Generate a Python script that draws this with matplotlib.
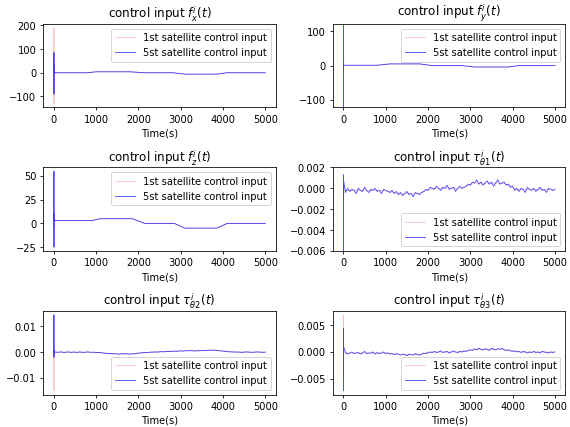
import matplotlib
matplotlib.use('Agg')
import matplotlib.pyplot as plt
import numpy as np

# time grids
t_spike = [0, 1, 2, 3, 4]
t_dense = np.arange(50, 5001, 50)

# ---- force inputs: spike at start, then slow profile ----
fx_red_spike = [0, 190, -130, 30, 0]
fx_blue_spike = [0, 85, -90, 35, 0]
fx_t = [10, 800, 1000, 1800, 2100, 2800, 3100, 3850, 4100, 5000]
fx_red = [0, 0, 4, 4, 0, 0, -7, -6, 0, 0]
fx_blue = [0, 0, 4, 4, 0, 0, -6, -6, 0, 0]

fy_red_spike = [0, -10, 8, -3, 1]
fy_blue_spike = [0, 130, -130, 55, 1]
fy_t = [10, 800, 1100, 1800, 2100, 2800, 3100, 3900, 4150, 5000]
fy_red = [1, 1, 5, 5, 0, 0, -4, -4, 0, 0]
fy_blue = [1, 1, 5, 5, 0, 0, -4, -4, 0, 0]

fz_red_spike = [3, 11, -7, 5, 3]
fz_blue_spike = [3, 55, -25, 10, 3]
fz_t = [10, 900, 1100, 1850, 2150, 2850, 3100, 3850, 4100, 5000]
fz_red = [3, 3, 5, 5, 0, 0, -5, -5, 0, 0]
fz_blue = [3, 3, 5, 5, 0, 0, -5, -5, 0, 0]

# ---- torque inputs (units of 1e-4) ----
tq1_red_spike = [0, -10, 5, -3, -2]
tq1_blue_spike = [0, -65, 13, -28, 7]
tq1_t = [10, 1000, 1300, 1800, 2100, 2800, 3100, 3800, 4100, 5000]
tq1_red = [-2, -2, -5, -5, 0, 0, 5, 5, -1, -1]
tq1_blue = [-4, 0, -3, -1, -2, -5, 0, -2, -3, 1, -2, -4, -1, -2, 0, -3, -2, -5, -1, -2,
            -3, -4, -2, -5, -3, -6,
            -4, -7, -5, -3, -6, -5, -8, -4, -5, -6,
            -4, -3, -1, -2, 1, 0,
            -1, 2, 0, -2, 1, 0, 3, -1, 0, 1, -3, 0, 2, 0,
            1, 2, 4, 3, 6, 5,
            8, 4, 6, 3, 5, 7, 4, 6, 2, 5, 8, 4, 5, 6,
            3, 4, 1, 2, -2, 0,
            -3, 0, -1, -4, 1, -1, -2, 0, -3, -1, 1, -2, -1, -4, 0, -1, -2, -1]

tq2_red_spike = [0, -150, 5, -10, 0]
tq2_blue_spike = [0, 145, -20, 10, 0]
tq2_t = [10, 1100, 1300, 1900, 2300, 3000, 3800, 4300, 5000]
tq2_red = [0, -2, -6, -7, 0, 5, 7, 0, 0]
tq2_blue = [0, -1, 1, 0, -1, 0, 1, -1, 0, 0, -1, 1, 0, -1, 0, 1, 0, -1, 0, -2, -1, -2, -3, -4,
            -5, -6, -5, -7, -6, -7, -8, -6, -7, -6, -7, -8, -6, -7,
            -5, -4, -3, -2, -2, -1, -1, 0,
            0, 1, 0, 1, 2, 1, 2, 3, 2, 3, 4, 3, 4, 5,
            4, 5, 6, 5, 6, 5, 4, 6, 5, 6, 7, 6, 7, 8, 7, 8, 7, 6,
            5, 4, 3, 2, 1, 1, 0, 1, 0,
            0, -1, 0, 1, 0, 0, -1, 0, 1, 0, 0, -1, 0]

tq3_red_spike = [0, 70, -50, 45, -2]
tq3_blue_spike = [0, -73, 45, -50, 10]
tq3_t = [10, 1000, 1300, 1800, 2100, 2800, 3100, 3800, 4200, 5000]
tq3_red = [-2, -2, -5, -5, 0, 0, 5, 5, 0, 0]
tq3_blue = [-1, -4, -2, 0, -3, -2, -1, -4, -2, 1, -3, -2, -2, 0, -4, -1, -3, -2, 0, -3,
            -2, -4, -3, -5, -3, -4,
            -6, -4, -5, -7, -4, -5, -6, -3, -5, -6,
            -4, -2, -3, -1, 0, -1,
            1, -1, 0, 2, -1, 0, 1, -2, 0, 2, 0, -1, 1, 0,
            2, 1, 3, 4, 3, 6,
            4, 7, 5, 4, 6, 5, 3, 7, 5, 4, 6, 5, 7, 4,
            3, 4, 2, 1, 2, 0, 1,
            -1, 1, 0, -2, 0, -1, 1, -1, 0, -2, 1, 0, -1, -2, 0, -1, 0]

titles = [r'control input $f_x^i(t)$', r'control input $f_y^i(t)$',
          r'control input $f_z^i(t)$', r'control input $\tau_{\theta1}^i(t)$',
          r'control input $\tau_{\theta2}^i(t)$', r'control input $\tau_{\theta3}^i(t)$']

fig, axes = plt.subplots(3, 2, figsize=(8, 6), dpi=71.25)
fig.subplots_adjust(left=0.076, right=0.992, top=0.943, bottom=0.076,
                    wspace=0.245, hspace=0.72)
axes = axes.ravel()


def draw(ax, red_spike, red_t, red, blue_spike, blue_t, blue, scale=1.0, loc='upper right'):
    rt = list(t_spike) + list(red_t)
    rv = (np.array(list(red_spike) + list(red)) * scale)
    bt = list(t_spike) + list(blue_t)
    bv = (np.array(list(blue_spike) + list(blue)) * scale)
    ax.plot(rt, rv, color='r', lw=0.8, alpha=0.25, label='1st satellite control input')
    ax.plot(bt, bv, color='b', lw=0.9, alpha=0.7, label='5st satellite control input')
    ax.set_xlabel('Time(s)')
    ax.set_xticks([0, 1000, 2000, 3000, 4000, 5000])
    ax.legend(loc=loc)


draw(axes[0], fx_red_spike, fx_t, fx_red, fx_blue_spike, fx_t, fx_blue)
draw(axes[1], fy_red_spike, fy_t, fy_red, fy_blue_spike, fy_t, fy_blue)
axes[1].set_ylim(-122, 122)
draw(axes[2], fz_red_spike, fz_t, fz_red, fz_blue_spike, fz_t, fz_blue)
draw(axes[3], tq1_red_spike, tq1_t, tq1_red, tq1_blue_spike, t_dense, tq1_blue,
     scale=1e-4, loc='lower right')
axes[3].set_ylim(-0.006, 0.002)
draw(axes[4], tq2_red_spike, tq2_t, tq2_red, tq2_blue_spike, t_dense, tq2_blue,
     scale=1e-4, loc='lower right')
draw(axes[5], tq3_red_spike, tq3_t, tq3_red, tq3_blue_spike, t_dense, tq3_blue,
     scale=1e-4, loc='lower right')

for ax, title in zip(axes, titles):
    ax.set_title(title)

plt.savefig('out.png', dpi=71.25)
